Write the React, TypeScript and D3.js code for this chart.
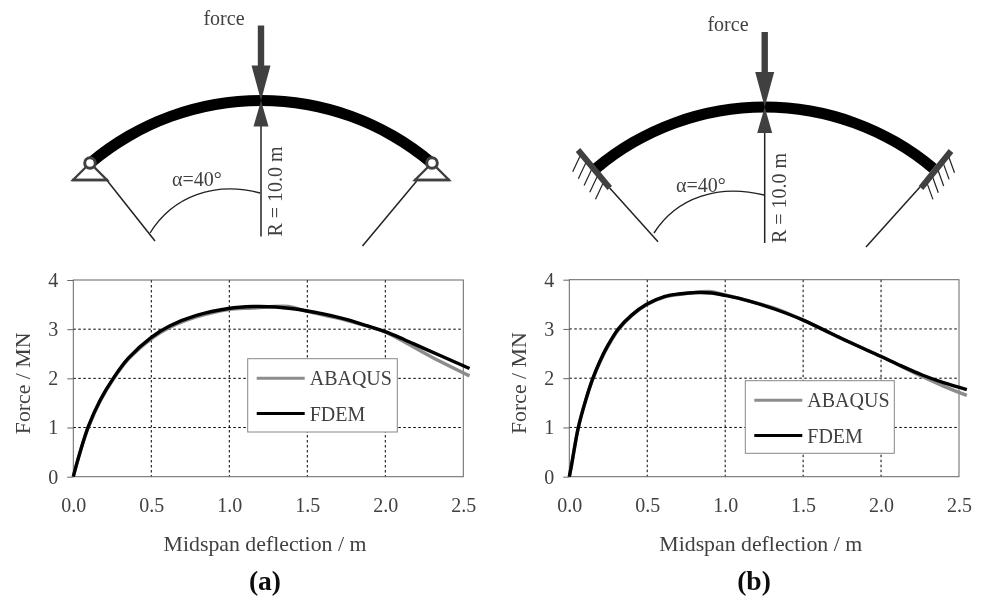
import * as d3 from 'd3';
import React, { useEffect, useRef } from 'react';

const xTicks = [0, 0.5, 1, 1.5, 2, 2.5];
const yTicks = [0, 1, 2, 3, 4];

const fdemAx = [0, 0.02, 0.05, 0.096, 0.171, 0.256, 0.353, 0.502, 0.62, 0.79, 0.994, 1.15, 1.3, 1.5, 1.75, 1.88, 2.0, 2.12, 2.24, 2.54];
const fdemAy = [0, 0.24, 0.57, 1.02, 1.55, 2.0, 2.41, 2.84, 3.07, 3.28, 3.42, 3.46, 3.45, 3.37, 3.2, 3.07, 2.95, 2.79, 2.62, 2.2];
const abaqusAx = [0, 0.02, 0.05, 0.096, 0.171, 0.256, 0.353, 0.502, 0.62, 0.79, 0.994, 1.15, 1.38, 1.5, 1.75, 2.0, 2.1, 2.3, 2.54];
const abaqusAy = [0, 0.24, 0.57, 1.0, 1.53, 1.98, 2.39, 2.81, 3.04, 3.25, 3.4, 3.43, 3.46, 3.36, 3.18, 2.94, 2.78, 2.43, 2.05];

const fdemBx = [0, 0.015, 0.058, 0.105, 0.148, 0.197, 0.25, 0.314, 0.4, 0.496, 0.614, 0.7, 0.83, 0.913, 1.0, 1.15, 1.32, 1.5, 1.75, 2.0, 2.13, 2.26, 2.4, 2.55];
const fdemBy = [0, 0.25, 1.0, 1.55, 1.97, 2.35, 2.68, 3.0, 3.28, 3.5, 3.66, 3.71, 3.74, 3.73, 3.68, 3.57, 3.4, 3.18, 2.8, 2.44, 2.25, 2.07, 1.91, 1.77];
const abaqusBx = [0, 0.015, 0.058, 0.105, 0.148, 0.197, 0.25, 0.314, 0.4, 0.496, 0.614, 0.7, 0.9, 1.0, 1.15, 1.32, 1.5, 1.75, 2.0, 2.26, 2.4, 2.55];
const abaqusBy = [0, 0.25, 1.0, 1.55, 1.96, 2.33, 2.66, 2.98, 3.27, 3.49, 3.65, 3.7, 3.76, 3.69, 3.57, 3.42, 3.18, 2.8, 2.44, 2.04, 1.84, 1.65];

const serif = '"Liberation Serif", serif';
const dark = '#404040';

const x0 = d3.scaleLinear().domain([0, 2.5]);
const y0 = d3.scaleLinear().domain([0, 4]);

const Plot = ({ left, right, top, bottom, series, legend, xTitleX, yTitleX, panel, panelX }) => {
  const axisRef = useRef(null);
  const x = x0.copy().range([left, right]);
  const y = y0.copy().range([bottom, top]);
  const line = d3.line().curve(d3.curveCatmullRom.alpha(0.5));

  useEffect(() => {
    const g = d3.select(axisRef.current);
    g.selectAll('*').remove();
    // dotted grid first, then the gray frame on top
    g.append('g')
      .selectAll('line')
      .data(xTicks.slice(1, -1))
      .join('line')
      .attr('x1', (d) => x(d))
      .attr('x2', (d) => x(d))
      .attr('y1', top)
      .attr('y2', bottom)
      .attr('stroke', '#000')
      .attr('stroke-dasharray', '2.5 2.5');
    g.append('g')
      .selectAll('line')
      .data(yTicks.slice(1, -1))
      .join('line')
      .attr('x1', left)
      .attr('x2', right)
      .attr('y1', (d) => y(d))
      .attr('y2', (d) => y(d))
      .attr('stroke', '#000')
      .attr('stroke-dasharray', '2.5 2.5');
    g.append('rect')
      .attr('x', left)
      .attr('y', top)
      .attr('width', right - left)
      .attr('height', bottom - top)
      .attr('fill', 'none')
      .attr('stroke', '#666');

    const yAxis = g
      .append('g')
      .attr('transform', `translate(${left},0)`)
      .call(d3.axisLeft(y).tickValues(yTicks).tickSize(6).tickPadding(9).tickFormat(d3.format('d')));
    const xAxis = g
      .append('g')
      .attr('transform', `translate(0,${bottom})`)
      .call(d3.axisBottom(x).tickValues(xTicks).tickSize(0).tickPadding(21).tickFormat(d3.format('.1f')));
    [xAxis, yAxis].forEach((a) => {
      a.select('.domain').remove();
      a.selectAll('.tick line').attr('stroke', '#666');
      a.selectAll('text').attr('font-family', serif).attr('font-size', 20).attr('fill', dark);
    });
  }, []);

  const midY = (top + bottom) / 2;
  return (
    <g>
      <g ref={axisRef} />
      {series.map((s) => (
        <path
          key={s.name}
          d={line(s.xs.map((v, i) => [x(v), y(s.ys[i])]))}
          fill="none"
          stroke={s.color}
          strokeWidth={s.width}
        />
      ))}
      <rect x={legend.x} y={legend.y} width={legend.w} height={legend.h} fill="#fff" stroke="#888" />
      {series.map((s, i) => (
        <g key={s.name}>
          <line
            x1={legend.x + 9}
            x2={legend.x + 57}
            y1={legend.y + 19.5 + i * 35.3}
            y2={legend.y + 19.5 + i * 35.3}
            stroke={s.color}
            strokeWidth={3}
          />
          <text
            x={legend.x + 62}
            y={legend.y + 26.5 + i * 35.8}
            fontFamily={serif}
            fontSize={20}
            fill={dark}
          >
            {s.name}
          </text>
        </g>
      ))}
      <text x={xTitleX} y={551} textAnchor="middle" fontFamily={serif} fontSize={21.8} fill={dark}>
        Midspan deflection / m
      </text>
      <text
        transform={`translate(${yTitleX},${midY + 5}) rotate(-90)`}
        textAnchor="middle"
        fontFamily={serif}
        fontSize={21.8}
        fill={dark}
      >
        Force / MN
      </text>
      <text x={panelX} y={590} textAnchor="middle" fontFamily={serif} fontSize={27.5} fontWeight="bold" fill="#111">
        {panel}
      </text>
    </g>
  );
};

// beam arch with load arrows and radius lines, cx = load line, topY = beam axis at midspan
const Arch = ({ cx, topY, radius, labelX, labelY, leftRay, rightRay, angleArc, alphaX }) => {
  const cy = topY + radius;
  const half = (40 * Math.PI) / 180;
  const beam = d3.arc()({
    innerRadius: radius - 5.5,
    outerRadius: radius + 5.5,
    startAngle: -half,
    endAngle: half
  });
  return (
    <g>
      <path d={beam} transform={`translate(${cx},${cy})`} fill="#000" />
      <line x1={cx} x2={cx} y1={topY + 20} y2={topY + 136} stroke="#222" strokeWidth={1.5} />
      <rect x={cx - 3.2} y={topY - 75} width={6.4} height={42} fill={dark} />
      <path d={`M${cx - 9.5},${topY - 35}L${cx + 9.5},${topY - 35}L${cx},${topY}Z`} fill={dark} />
      <path d={`M${cx},${topY}L${cx + 7.5},${topY + 26}L${cx - 7.5},${topY + 26}Z`} fill={dark} />
      <line x1={leftRay[0]} y1={leftRay[1]} x2={leftRay[2]} y2={leftRay[3]} stroke="#222" strokeWidth={1.5} />
      <line x1={rightRay[0]} y1={rightRay[1]} x2={rightRay[2]} y2={rightRay[3]} stroke="#222" strokeWidth={1.5} />
      <path d={angleArc} fill="none" stroke="#222" strokeWidth={1.4} />
      <text x={labelX} y={labelY} textAnchor="middle" fontFamily={serif} fontSize={20} fill={dark}>
        force
      </text>
      <text x={alphaX} y={topY + 85} fontFamily={serif} fontSize={20} fill={dark}>
        α=40°
      </text>
      <text
        transform={`translate(${cx + 21},${topY + 136}) rotate(-90)`}
        fontFamily={serif}
        fontSize={20}
        fill={dark}
      >
        R = 10.0 m
      </text>
    </g>
  );
};

const Pin = ({ x, y }) => (
  <g>
    <path d={`M${x},${y}L${x - 17},${y + 17}L${x + 17},${y + 17}Z`} fill="#fff" stroke={dark} strokeWidth={2.4} />
    <line x1={x - 18} x2={x + 18} y1={y + 17} y2={y + 17} stroke={dark} strokeWidth={2.4} />
    <circle cx={x} cy={y} r={5.3} fill="#fff" stroke={dark} strokeWidth={3} />
  </g>
);

// clamped end: thick plate along the radial line plus five hatch strokes
const Clamp = ({ x1, y1, x2, y2, hx, hy }) => {
  const hatches = d3.range(5).map((i) => 0.1 + i * 0.18);
  return (
    <g>
      {hatches.map((t) => {
        const px = x1 + (x2 - x1) * t;
        const py = y1 + (y2 - y1) * t;
        return <line key={t} x1={px} y1={py} x2={px + hx} y2={py + hy} stroke="#222" strokeWidth={1.2} />;
      })}
      <line x1={x1} y1={y1} x2={x2} y2={y2} stroke={dark} strokeWidth={6} />
    </g>
  );
};

const App = () => (
  <svg
    width={988}
    height={599}
    viewBox="0 0 988 599"
    style={{ position: 'absolute', left: 0, top: 0, background: '#fff' }}
  >
    {/* the reference is a slightly soft scan */}
    <filter id="soft">
      <feGaussianBlur stdDeviation="0.35" />
    </filter>
    <g filter="url(#soft)">
      <Arch
        cx={261}
        topY={100.5}
        radius={264}
        labelX={224}
        labelY={25}
        leftRay={[106.7, 180, 155, 241]}
        rightRay={[416.7, 181, 362.5, 246]}
        angleArc="M150,233C173,196 215,181 260,193"
        alphaX={172}
      />
      <Pin x={90} y={163} />
      <Pin x={432} y={163} />
      <Arch
        cx={764.7}
        topY={107}
        radius={262}
        labelX={728}
        labelY={31}
        leftRay={[609.7, 188, 658, 241.7]}
        rightRay={[920, 187, 866, 247]}
        angleArc="M654,233C677,197 719,184 764,195"
        alphaX={676}
      />
      <Clamp x1={578} y1={150} x2={609.7} y2={188} hx={-8.5} hy={18} />
      <Clamp x1={951} y1={151} x2={921} y2={188} hx={6.5} hy={18} />

      <Plot
        left={73.3}
        right={463.3}
        top={280}
        bottom={476.7}
        series={[
          { name: 'ABAQUS', xs: abaqusAx, ys: abaqusAy, color: '#8c8c8c', width: 3.4 },
          { name: 'FDEM', xs: fdemAx, ys: fdemAy, color: '#000', width: 3.4 }
        ]}
        legend={{ x: 247.7, y: 358.7, w: 149.6, h: 73.3 }}
        xTitleX={265}
        yTitleX={30}
        panel="(a)"
        panelX={265}
      />
      <Plot
        left={569.3}
        right={959}
        top={279.7}
        bottom={476.7}
        series={[
          { name: 'ABAQUS', xs: abaqusBx, ys: abaqusBy, color: '#8c8c8c', width: 3.4 },
          { name: 'FDEM', xs: fdemBx, ys: fdemBy, color: '#000', width: 3.4 }
        ]}
        legend={{ x: 745.3, y: 380.7, w: 149, h: 72.6 }}
        xTitleX={760.7}
        yTitleX={526}
        panel="(b)"
        panelX={754}
      />
    </g>
  </svg>
);

export default App;
